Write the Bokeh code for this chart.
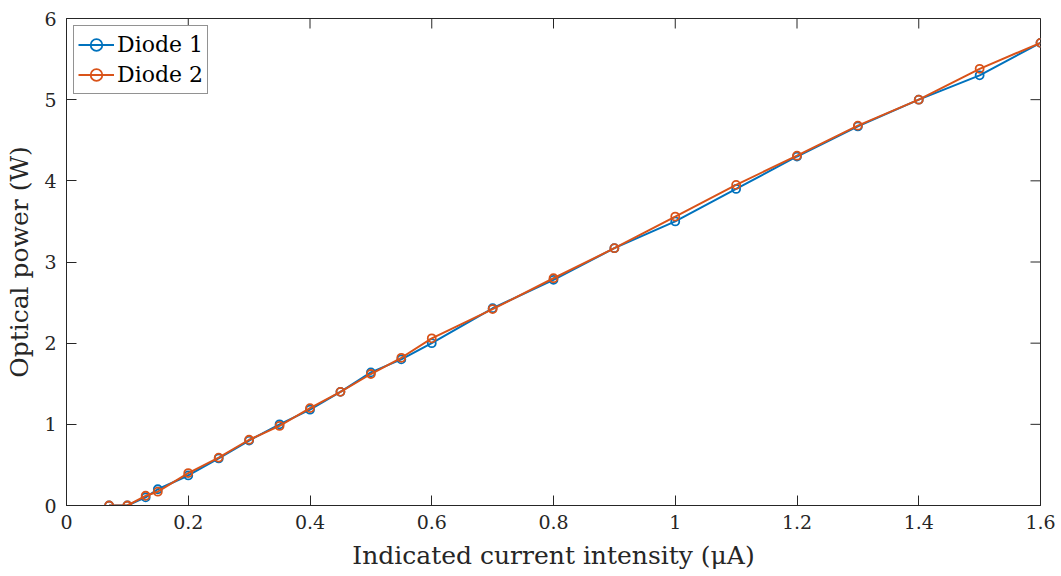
import math
from bokeh.plotting import figure
from bokeh.models import FixedTicker, Range1d
from bokeh.embed import file_html
from bokeh.resources import INLINE

current = [0.07, 0.1, 0.13, 0.15, 0.2, 0.25, 0.3, 0.35, 0.4, 0.45, 0.5, 0.55, 0.6,
           0.7, 0.8, 0.9, 1.0, 1.1, 1.2, 1.3, 1.4, 1.5, 1.6]
diode1 = [0.0, 0.0, 0.1, 0.2, 0.37, 0.58, 0.8, 1.0, 1.18, 1.4, 1.64, 1.8, 2.0,
          2.43, 2.78, 3.17, 3.5, 3.9, 4.3, 4.67, 5.0, 5.3, 5.7]
diode2 = [0.0, 0.0, 0.12, 0.17, 0.4, 0.59, 0.81, 0.98, 1.2, 1.4, 1.62, 1.82, 2.06,
          2.42, 2.8, 3.17, 3.56, 3.95, 4.31, 4.68, 5.0, 5.38, 5.7]
x_ticks = [0, 0.2, 0.4, 0.6, 0.8, 1.0, 1.2, 1.4, 1.6]
y_ticks = [0, 1, 2, 3, 4, 5, 6]
x_min, x_max = 0, 1.6
y_min, y_max = 0, 6

FONT = "DejaVu Serif"
DARK = "#262626"
C1 = "#0072BD"
C2 = "#D95319"
TICK = 10

p = figure(width=1061, height=576, output_backend="svg", toolbar_location=None,
           x_range=Range1d(x_min, x_max), y_range=Range1d(y_min, y_max),
           min_border_left=66, min_border_right=21, min_border_top=18, min_border_bottom=71)
p.xgrid.visible = False
p.ygrid.visible = False
p.outline_line_color = DARK
p.outline_line_width = 1
p.background_fill_color = "white"
p.border_fill_color = "white"

def style(ax, ticks):
    ax.ticker = FixedTicker(ticks=ticks)
    ax.major_label_overrides = {t: f"{t:g}" for t in ticks}
    ax.major_tick_in = TICK
    ax.major_tick_out = 0
    ax.minor_tick_in = 0
    ax.minor_tick_out = 0
    ax.axis_line_color = DARK
    ax.major_tick_line_color = DARK
    ax.major_label_text_font = FONT
    ax.major_label_text_font_size = "19px"
    ax.major_label_text_color = DARK
    ax.axis_label_text_font = FONT
    ax.axis_label_text_font_size = "25px"
    ax.axis_label_text_font_style = "normal"
    ax.axis_label_text_color = DARK

style(p.xaxis[0], x_ticks)
style(p.yaxis[0], y_ticks)
p.xaxis[0].axis_label = "Indicated current intensity (μA)"
p.yaxis[0].axis_label = "Optical power (W)"
p.xaxis[0].major_label_standoff = 9
p.xaxis[0].axis_label_standoff = 9
p.yaxis[0].major_label_standoff = 10
p.yaxis[0].axis_label_standoff = 7

# inward ticks on the top and right edges of the box
p.ray(x=x_ticks, y=[y_max] * len(x_ticks), length=TICK, length_units="screen",
      angle=-math.pi / 2, line_color=DARK, line_width=1)
p.ray(x=[x_max] * len(y_ticks), y=y_ticks, length=TICK, length_units="screen",
      angle=math.pi, line_color=DARK, line_width=1)

p.line(current, diode1, color=C1, line_width=2, legend_label="Diode 1")
p.scatter(current, diode1, marker="circle", size=8, fill_color=None,
          line_color=C1, line_width=1.8, legend_label="Diode 1")
p.line(current, diode2, color=C2, line_width=2, legend_label="Diode 2")
p.scatter(current, diode2, marker="circle", size=8, fill_color=None,
          line_color=C2, line_width=1.8, legend_label="Diode 2")

lg = p.legend[0]
lg.location = "top_left"
lg.margin = 7
lg.padding = 4
lg.spacing = 1
lg.glyph_width = 36
lg.glyph_height = 29
lg.label_height = 29
lg.label_text_font = FONT
lg.label_text_font_size = "22px"
lg.label_text_color = "black"
lg.label_standoff = 3
lg.border_line_color = DARK
lg.border_line_width = 1
lg.background_fill_alpha = 1

open("out.html", "w").write(file_html(p, INLINE))
